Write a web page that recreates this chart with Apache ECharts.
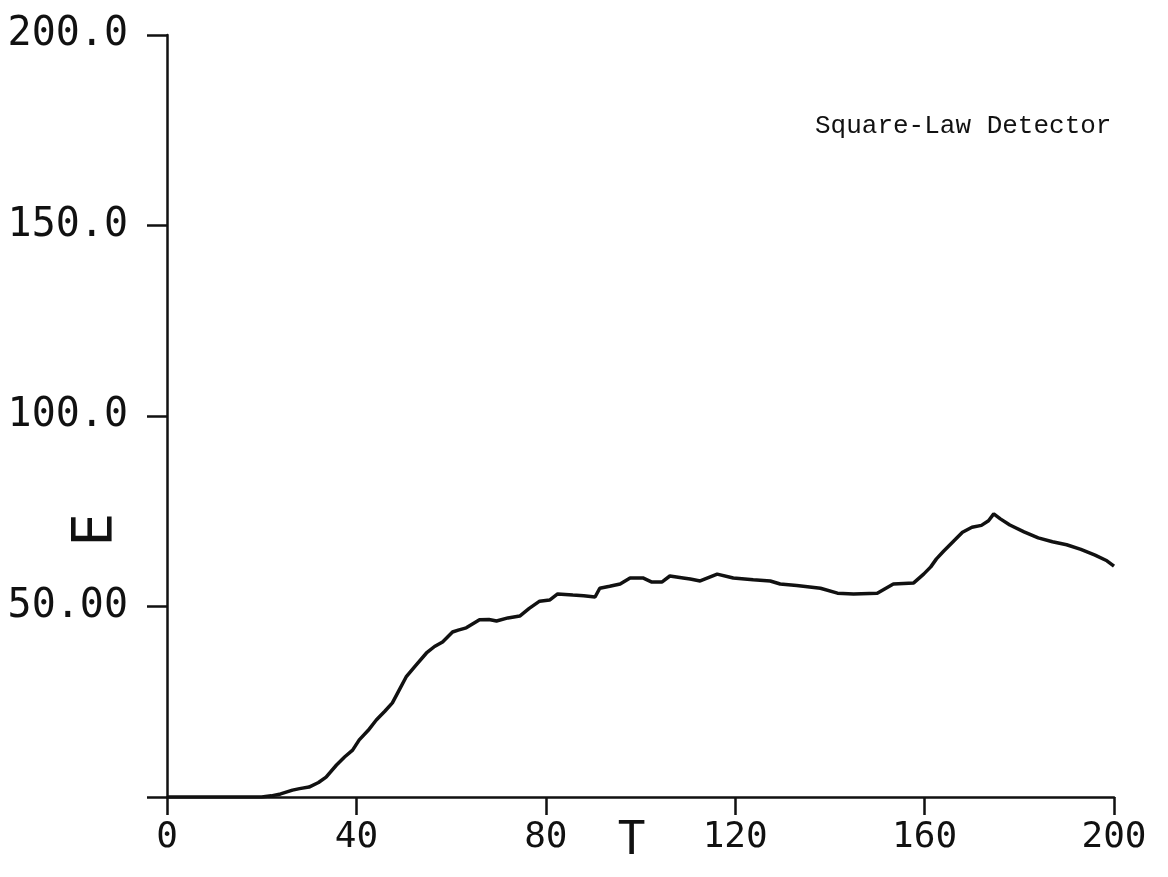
<!DOCTYPE html>
<html>
<head>
<meta charset="utf-8">
<script src="https://cdn.jsdelivr.net/npm/echarts@6/dist/echarts.min.js"></script>
<style>
html,body{margin:0;padding:0;background:#fff;}
#chart{width:1168px;height:877px;}
</style>
</head>
<body>
<div id="chart"></div>
<script>
// Time axis values (T)
const tValues = [0, 5, 10, 15, 20, 22, 24, 26.5, 28, 30, 32, 33.6, 35.8, 37.5, 39.2, 40.6, 42.5, 44.2, 46, 47.6, 49, 50.5, 52.5, 54.8, 56.5, 58.2, 60.3, 61.5, 63.2, 66, 68, 69.6, 72, 74.5, 76.5, 78.7, 80.8, 82.5, 85.7, 88, 90.4, 91.4, 93.5, 95.7, 97.8, 100.5, 102.4, 104.5, 106.2, 109, 110.5, 112.6, 116.2, 119.6, 123.8, 127.4, 129.5, 133, 138, 141.6, 145, 150, 153.4, 157.7, 159.8, 161.3, 162.5, 164, 166, 168, 170, 172, 173.5, 174.6, 176, 178, 181, 184, 187, 190, 193, 196, 198.5, 200];
// Detector output (E)
const eValues = [0, 0, 0, 0, 0, 0.3, 0.8, 1.8, 2.2, 2.6, 3.8, 5.2, 8.4, 10.5, 12.3, 15, 17.5, 20.2, 22.5, 24.7, 28, 31.5, 34.5, 37.8, 39.5, 40.7, 43.3, 43.8, 44.4, 46.5, 46.6, 46.2, 47, 47.5, 49.5, 51.4, 51.7, 53.3, 53, 52.8, 52.5, 54.8, 55.3, 55.9, 57.5, 57.5, 56.4, 56.4, 58, 57.5, 57.2, 56.7, 58.5, 57.5, 57, 56.7, 55.9, 55.5, 54.8, 53.5, 53.3, 53.5, 55.9, 56.2, 58.5, 60.4, 62.5, 64.5, 67, 69.5, 70.8, 71.3, 72.5, 74.3, 73, 71.4, 69.6, 68, 67, 66.2, 65, 63.5, 62, 60.6];
// Tick labels
const xTickValues = [0, 40, 80, 120, 160, 200];
const xTickLabels = ['0', '40', '80', '120', '160', '200'];
const yTickValues = [0, 50, 100, 150, 200];
const yTickLabels = ['', '50.00', '100.0', '150.0', '200.0'];
const annotation = 'Square-Law Detector';
const xName = 'T';
const yName = 'E';

const data = tValues.map((t, i) => [t, eValues[i]]);
const chart = echarts.init(document.getElementById('chart'), null, {renderer: 'canvas'});
const labelFont = 'DejaVu Sans Mono';
chart.setOption({
  animation: false,
  backgroundColor: '#ffffff',
  title: {
    text: annotation,
    left: 815, top: 113, padding: 0,
    textStyle: {fontFamily: 'Liberation Mono', fontSize: 26, fontWeight: 'normal', color: '#111'}
  },
  graphic: [{
    type: 'text', x: 96, y: 530, rotation: Math.PI / 2,
    style: {text: yName, x: 0, y: 0, align: 'center', verticalAlign: 'middle',
      font: '56px "DejaVu Sans Mono"', fill: '#111'}
  }],
  grid: {left: 167, right: 54, top: 35, bottom: 80, containLabel: false, outerBoundsMode: 'none'},
  xAxis: {
    type: 'value', min: 0, max: 200, interval: 40,
    name: xName, nameLocation: 'middle', nameGap: 22, nameMoveOverlap: false,
    nameTextStyle: {fontFamily: labelFont, fontSize: 46, color: '#111', padding: [0, 18, 0, 0], verticalAlign: 'top'},
    axisLine: {show: true, onZero: false, lineStyle: {color: '#111', width: 2.5}},
    axisTick: {show: true, inside: false, length: 18, lineStyle: {color: '#111', width: 2.5}},
    axisLabel: {
      margin: 23, fontFamily: labelFont, fontSize: 36, color: '#111',
      formatter: v => { const i = xTickValues.indexOf(v); return i >= 0 ? xTickLabels[i] : ''; }
    },
    splitLine: {show: false}
  },
  yAxis: {
    type: 'value', min: 0, max: 200, interval: 50,
    axisLine: {show: true, onZero: false, lineStyle: {color: '#111', width: 2.5}},
    axisTick: {show: true, inside: false, length: 20, lineStyle: {color: '#111', width: 2.5}},
    axisLabel: {
      margin: 39, fontFamily: labelFont, fontSize: 40, color: '#111',
      formatter: v => { const i = yTickValues.indexOf(v); return i >= 0 ? yTickLabels[i] : ''; }
    },
    splitLine: {show: false}
  },
  series: [{
    type: 'line', data: data, showSymbol: false, symbol: 'none', smooth: false,
    lineStyle: {color: '#111', width: 3.5}
  }]
});
</script>
</body>
</html>
